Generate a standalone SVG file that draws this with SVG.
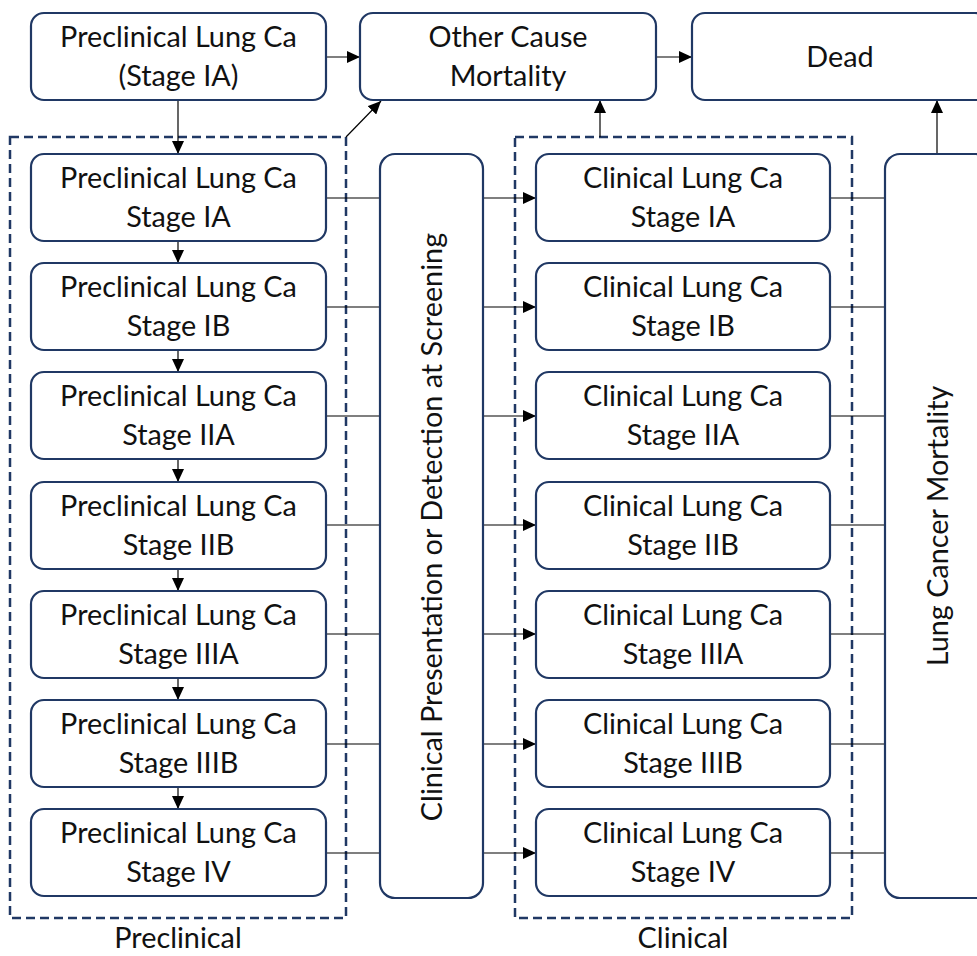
<svg xmlns="http://www.w3.org/2000/svg" width="977" height="956" viewBox="0 0 977 956">
<style>
.box{fill:#fff;stroke:#203864;stroke-width:2.2}
.dash{fill:none;stroke:#203864;stroke-width:2.5;stroke-dasharray:9 5}
.c{fill:none;stroke:#000;stroke-width:1.2}
.t{font-family:Lato,"Open Sans","Liberation Sans",sans-serif;font-size:28.8px;fill:#111;text-anchor:middle}
</style>
<defs>
<marker id="ah" viewBox="0 0 13 12" refX="13" refY="6" markerWidth="13" markerHeight="12" markerUnits="userSpaceOnUse" orient="auto">
<path d="M0,0 L13,6 L0,12 Z" fill="#000"/>
</marker>
</defs>
<rect width="977" height="956" fill="#fff"/>
<g id="groups">
<rect class="dash" x="10" y="137" width="336" height="781"/>
<rect class="dash" x="515" y="137" width="337" height="781"/>
<text class="t" x="178" y="948">Preclinical</text>
<text class="t" x="683" y="948">Clinical</text>
</g>
<g id="connectors">
<line class="c" x1="326" y1="57" x2="360" y2="57" marker-end="url(#ah)"/>
<line class="c" x1="656" y1="57" x2="692" y2="57" marker-end="url(#ah)"/>
<line class="c" x1="178" y1="100" x2="178" y2="154" marker-end="url(#ah)"/>
<line class="c" x1="346" y1="137" x2="381" y2="101" marker-end="url(#ah)"/>
<line class="c" x1="600" y1="137" x2="600" y2="100" marker-end="url(#ah)"/>
<line class="c" x1="937" y1="154" x2="937" y2="100" marker-end="url(#ah)"/>
<line class="c" x1="178" y1="241" x2="178" y2="263" marker-end="url(#ah)"/>
<line class="c" x1="178" y1="350" x2="178" y2="372" marker-end="url(#ah)"/>
<line class="c" x1="178" y1="459" x2="178" y2="482" marker-end="url(#ah)"/>
<line class="c" x1="178" y1="569" x2="178" y2="591" marker-end="url(#ah)"/>
<line class="c" x1="178" y1="678" x2="178" y2="700" marker-end="url(#ah)"/>
<line class="c" x1="178" y1="787" x2="178" y2="809" marker-end="url(#ah)"/>
<line class="c" x1="326" y1="198" x2="380" y2="198"/>
<line class="c" x1="326" y1="307" x2="380" y2="307"/>
<line class="c" x1="326" y1="416" x2="380" y2="416"/>
<line class="c" x1="326" y1="525" x2="380" y2="525"/>
<line class="c" x1="326" y1="634" x2="380" y2="634"/>
<line class="c" x1="326" y1="744" x2="380" y2="744"/>
<line class="c" x1="326" y1="853" x2="380" y2="853"/>
<line class="c" x1="483" y1="198" x2="536" y2="198" marker-end="url(#ah)"/>
<line class="c" x1="483" y1="307" x2="536" y2="307" marker-end="url(#ah)"/>
<line class="c" x1="483" y1="416" x2="536" y2="416" marker-end="url(#ah)"/>
<line class="c" x1="483" y1="525" x2="536" y2="525" marker-end="url(#ah)"/>
<line class="c" x1="483" y1="634" x2="536" y2="634" marker-end="url(#ah)"/>
<line class="c" x1="483" y1="744" x2="536" y2="744" marker-end="url(#ah)"/>
<line class="c" x1="483" y1="853" x2="536" y2="853" marker-end="url(#ah)"/>
<line class="c" x1="830" y1="198" x2="885" y2="198"/>
<line class="c" x1="830" y1="307" x2="885" y2="307"/>
<line class="c" x1="830" y1="416" x2="885" y2="416"/>
<line class="c" x1="830" y1="525" x2="885" y2="525"/>
<line class="c" x1="830" y1="634" x2="885" y2="634"/>
<line class="c" x1="830" y1="744" x2="885" y2="744"/>
<line class="c" x1="830" y1="853" x2="885" y2="853"/>
</g>
<g id="pre-top"><rect class="box" x="31" y="13" width="295" height="87" rx="13"/><text class="t" x="178.5" y="47">Preclinical Lung Ca</text><text class="t" x="178.5" y="86">(Stage IA)</text></g>
<g id="other"><rect class="box" x="360" y="13" width="296" height="87" rx="13"/><text class="t" x="508" y="47">Other Cause</text><text class="t" x="508" y="86">Mortality</text></g>
<g id="dead"><rect class="box" x="692" y="13" width="296" height="87" rx="13"/><text class="t" x="840" y="67">Dead</text></g>
<g id="pre-1a"><rect class="box" x="31" y="154" width="295" height="87" rx="13"/><text class="t" x="178.5" y="188">Preclinical Lung Ca</text><text class="t" x="178.5" y="227">Stage IA</text></g>
<g id="pre-1b"><rect class="box" x="31" y="263" width="295" height="87" rx="13"/><text class="t" x="178.5" y="297">Preclinical Lung Ca</text><text class="t" x="178.5" y="336">Stage IB</text></g>
<g id="pre-2a"><rect class="box" x="31" y="372" width="295" height="87" rx="13"/><text class="t" x="178.5" y="406">Preclinical Lung Ca</text><text class="t" x="178.5" y="445">Stage IIA</text></g>
<g id="pre-2b"><rect class="box" x="31" y="482" width="295" height="87" rx="13"/><text class="t" x="178.5" y="516">Preclinical Lung Ca</text><text class="t" x="178.5" y="555">Stage IIB</text></g>
<g id="pre-3a"><rect class="box" x="31" y="591" width="295" height="87" rx="13"/><text class="t" x="178.5" y="625">Preclinical Lung Ca</text><text class="t" x="178.5" y="664">Stage IIIA</text></g>
<g id="pre-3b"><rect class="box" x="31" y="700" width="295" height="87" rx="13"/><text class="t" x="178.5" y="734">Preclinical Lung Ca</text><text class="t" x="178.5" y="773">Stage IIIB</text></g>
<g id="pre-4"><rect class="box" x="31" y="809" width="295" height="87" rx="13"/><text class="t" x="178.5" y="843">Preclinical Lung Ca</text><text class="t" x="178.5" y="882">Stage IV</text></g>
<g id="presentation"><rect class="box" x="380" y="154" width="103" height="744" rx="15"/><text class="t" font-size="31" transform="translate(442,527) rotate(-90)">Clinical Presentation or Detection at Screening</text></g>
<g id="cl-1a"><rect class="box" x="536" y="154" width="294" height="87" rx="13"/><text class="t" x="683" y="188">Clinical Lung Ca</text><text class="t" x="683" y="227">Stage IA</text></g>
<g id="cl-1b"><rect class="box" x="536" y="263" width="294" height="87" rx="13"/><text class="t" x="683" y="297">Clinical Lung Ca</text><text class="t" x="683" y="336">Stage IB</text></g>
<g id="cl-2a"><rect class="box" x="536" y="372" width="294" height="87" rx="13"/><text class="t" x="683" y="406">Clinical Lung Ca</text><text class="t" x="683" y="445">Stage IIA</text></g>
<g id="cl-2b"><rect class="box" x="536" y="482" width="294" height="87" rx="13"/><text class="t" x="683" y="516">Clinical Lung Ca</text><text class="t" x="683" y="555">Stage IIB</text></g>
<g id="cl-3a"><rect class="box" x="536" y="591" width="294" height="87" rx="13"/><text class="t" x="683" y="625">Clinical Lung Ca</text><text class="t" x="683" y="664">Stage IIIA</text></g>
<g id="cl-3b"><rect class="box" x="536" y="700" width="294" height="87" rx="13"/><text class="t" x="683" y="734">Clinical Lung Ca</text><text class="t" x="683" y="773">Stage IIIB</text></g>
<g id="cl-4"><rect class="box" x="536" y="809" width="294" height="87" rx="13"/><text class="t" x="683" y="843">Clinical Lung Ca</text><text class="t" x="683" y="882">Stage IV</text></g>
<g id="lcm"><rect class="box" x="885" y="154" width="106" height="744" rx="15"/><text class="t" transform="translate(948,526) rotate(-90)">Lung Cancer Mortality</text></g>
</svg>
